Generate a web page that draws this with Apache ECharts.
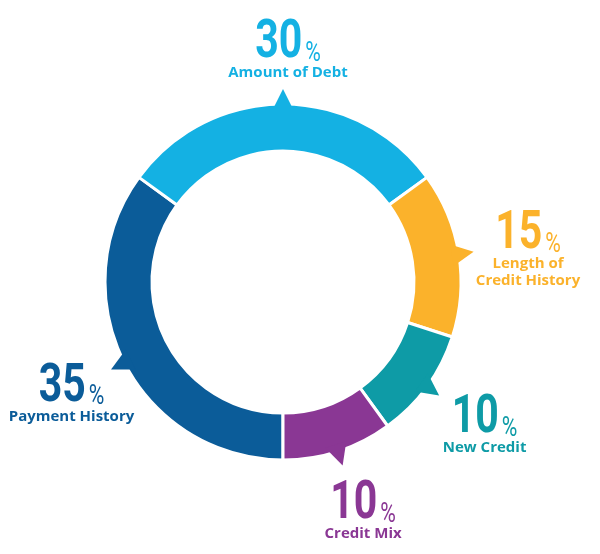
<!DOCTYPE html>
<html>
<head>
<meta charset="utf-8">
<script src="https://cdn.jsdelivr.net/npm/echarts@6/dist/echarts.min.js"></script>
<style>
  html, body { margin: 0; padding: 0; background: #fff; }
  #chart { width: 600px; height: 554px; }
</style>
</head>
<body>
<div id="chart"></div>
<script>
// credit score breakdown
const categories = ['Payment History', 'Amount of Debt', 'Length of\nCredit History', 'New Credit', 'Credit Mix'];
const shares = [35, 30, 15, 10, 10];

const palette = ['#0b5c99', '#14b1e3', '#fbb22b', '#0e9ba6', '#8a3794'];
const cx = 283, cy = 282;
const ring = [131, 178];
const labelRadius = 243;
const labelSquash = 0.973; // labels sit on a slightly flattened circle
const labelNudge = [5, 3.5];
const nameLine = 17;

// middle angle of each slice, clockwise from 12 o'clock, first slice starts at 6 o'clock
const total = shares.reduce((a, b) => a + b, 0);
let acc = 180;
const midAngles = shares.map(v => {
  const span = v / total * 360;
  const mid = acc + span / 2;
  acc += span;
  return mid % 360;
});

// big condensed percentage + name underneath, centred on the label point
function renderLabel(params, api) {
  const i = params.dataIndex;
  const o = api.coord([0, api.value(1)]);
  const pt = api.coord([api.value(0), api.value(1)]);
  const names = categories[i].split('\n');
  const shift = 10.5 + (names.length - 1) * nameLine / 2;
  const color = palette[i];
  return {
    type: 'group',
    x: pt[0] + labelNudge[0],
    y: o[1] + (pt[1] - o[1]) * labelSquash + labelNudge[1] - shift,
    children: [
      {
        type: 'text',
        x: 0,
        y: 5,
        scaleX: 0.76,
        style: {
          text: '{n|' + shares[i] + '}{p|%}',
          align: 'center',
          verticalAlign: 'middle',
          fill: color,
          rich: {
            n: { fontFamily: 'Roboto', fontWeight: 'bold', fontSize: 54, verticalAlign: 'bottom', fill: color },
            p: { fontFamily: 'Roboto', fontWeight: 'normal', fontSize: 28, verticalAlign: 'bottom', padding: [0, 0, 3, 4], fill: color }
          }
        }
      },
      {
        type: 'text',
        x: 0,
        y: 34 + (names.length - 1) * nameLine / 2,
        style: {
          text: names.join('\n'),
          fontFamily: 'Open Sans',
          fontWeight: 'bold',
          fontSize: 15,
          lineHeight: nameLine,
          align: 'center',
          verticalAlign: 'middle',
          fill: color
        }
      }
    ]
  };
}

const chart = echarts.init(document.getElementById('chart'));

chart.setOption({
  animation: false,
  color: palette,
  polar: { center: [cx, cy], radius: 250 },
  angleAxis: { type: 'value', min: 0, max: 360, startAngle: 90, clockwise: true, show: false },
  radiusAxis: { type: 'value', min: 0, max: 250, show: false },
  series: [
    {
      type: 'pie',
      center: [cx, cy],
      radius: ring,
      startAngle: -90,
      clockwise: true,
      silent: true,
      label: { show: false },
      labelLine: { show: false },
      itemStyle: { borderColor: '#fff', borderWidth: 3 },
      data: categories.map((name, i) => ({ name: name, value: shares[i] }))
    },
    {
      // little pointers on the outer edge
      type: 'scatter',
      coordinateSystem: 'polar',
      silent: true,
      symbol: 'triangle',
      symbolSize: [22, 22],
      itemStyle: { opacity: 1 },
      data: midAngles.map((a, i) => ({
        value: [ring[1] + 4, a],
        symbolRotate: -a,
        itemStyle: { color: palette[i] }
      }))
    },
    {
      type: 'custom',
      coordinateSystem: 'polar',
      silent: true,
      renderItem: renderLabel,
      data: midAngles.map(a => [labelRadius, a])
    }
  ]
});
</script>
</body>
</html>
